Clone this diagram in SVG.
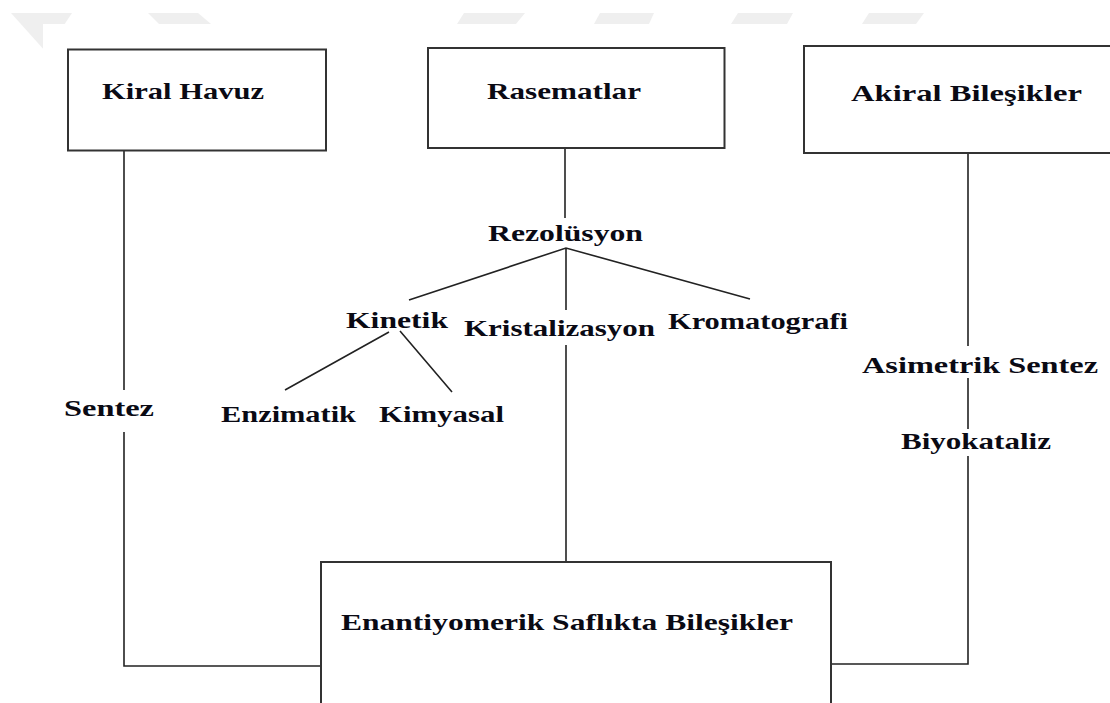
<svg xmlns="http://www.w3.org/2000/svg" width="1110" height="703" viewBox="0 0 1110 703">
<style>
.box{fill:#fff;stroke:#333;stroke-width:2}
.ln{fill:none;stroke:#222;stroke-width:1.6}
.t{font-family:"Liberation Serif","Times New Roman",serif;font-weight:bold;font-size:24px;fill:#0a0a14}
.wm{fill:#efefef}
</style>
<rect width="1110" height="703" fill="#fff"/>
<g id="watermark">
<polygon class="wm" points="11,13 72,13 46,52"/>
<polygon class="wm" points="148,13 198,13 211,24 159,24"/>
<polygon class="wm" points="464,13 525,13 516,24 457,24"/>
<polygon class="wm" points="600,13 654,13 649,24 594,24"/>
<polygon class="wm" points="738,13 793,13 787,24 731,24"/>
<polygon class="wm" points="869,13 924,13 916,24 862,24"/>
<rect x="43" y="24" width="1067" height="679" fill="#fff"/>
</g>
<g id="connectors">
<path class="ln" d="M124 151 V390 M124 432 V666 H321"/>
<path class="ln" d="M565 148 V218"/>
<path class="ln" d="M409 300 L566 248 L750 299 M566 248 V310"/>
<path class="ln" d="M566 345 V562"/>
<path class="ln" d="M389 332 L285 390 M400 331 L452 392"/>
<path class="ln" d="M968 153 V346 M968 378 V429 M968 456 V664 H831"/>
</g>
<g id="kiral-havuz">
<rect class="box" x="68" y="49.5" width="258" height="101"/>
<text class="t" x="102" y="99" textLength="162" lengthAdjust="spacingAndGlyphs">Kiral Havuz</text>
</g>
<g id="rasematlar">
<rect class="box" x="428" y="48" width="296.5" height="100"/>
<text class="t" x="487" y="99" textLength="154" lengthAdjust="spacingAndGlyphs">Rasematlar</text>
</g>
<g id="akiral">
<rect class="box" x="804" y="46" width="320" height="107"/>
<text class="t" x="851" y="101" textLength="231" lengthAdjust="spacingAndGlyphs">Akiral Bileşikler</text>
</g>
<g id="enantiyomerik">
<rect class="box" x="321" y="562" width="510" height="160"/>
<text class="t" x="341" y="630" textLength="452" lengthAdjust="spacingAndGlyphs">Enantiyomerik Saflıkta Bileşikler</text>
</g>
<g id="rezolusyon"><text class="t" x="488" y="241" textLength="155" lengthAdjust="spacingAndGlyphs">Rezolüsyon</text></g>
<g id="kinetik"><text class="t" x="346" y="328" textLength="102" lengthAdjust="spacingAndGlyphs">Kinetik</text></g>
<g id="kristalizasyon"><text class="t" x="464" y="336" textLength="191" lengthAdjust="spacingAndGlyphs">Kristalizasyon</text></g>
<g id="kromatografi"><text class="t" x="668" y="329" textLength="180" lengthAdjust="spacingAndGlyphs">Kromatografi</text></g>
<g id="enzimatik"><text class="t" x="221" y="422" textLength="135" lengthAdjust="spacingAndGlyphs">Enzimatik</text></g>
<g id="kimyasal"><text class="t" x="379" y="422" textLength="125" lengthAdjust="spacingAndGlyphs">Kimyasal</text></g>
<g id="sentez"><text class="t" x="64" y="416" textLength="90" lengthAdjust="spacingAndGlyphs">Sentez</text></g>
<g id="asimetrik-sentez"><text class="t" x="862" y="373" textLength="236" lengthAdjust="spacingAndGlyphs">Asimetrik Sentez</text></g>
<g id="biyokataliz"><text class="t" x="901" y="449" textLength="150" lengthAdjust="spacingAndGlyphs">Biyokataliz</text></g>
</svg>
